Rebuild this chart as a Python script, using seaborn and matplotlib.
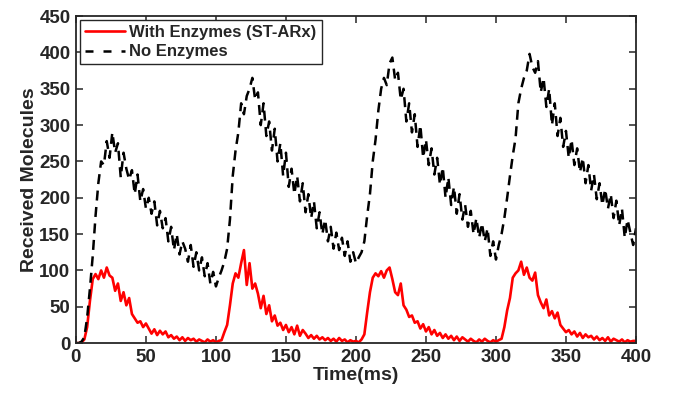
import numpy as np
import pandas as pd
import matplotlib
matplotlib.use("Agg")
import matplotlib.pyplot as plt
import seaborn as sns

# time axis (ms), 2 ms step
time_ms = list(range(0, 401, 2))

no_enzymes = [
    # 0..98
    0, 0, 2, 8, 35, 75, 120, 175, 220, 250, 245, 278, 255, 290, 262, 275, 228, 262, 240, 225,
    238, 205, 232, 195, 212, 185, 200, 178, 195, 162, 182, 158, 172, 140, 160, 128, 150, 122, 140, 130,
    112, 135, 105, 125, 100, 118, 92, 110, 82, 98,
    # 100..198
    78, 90, 100, 112, 130, 170, 230, 265, 290, 330, 315, 340, 350, 365, 335, 345, 300, 330, 285, 305,
    265, 295, 250, 275, 230, 262, 215, 240, 205, 230, 195, 220, 180, 205, 172, 195, 158, 180, 150, 170,
    140, 160, 130, 152, 128, 145, 120, 140, 112, 125,
    # 200..298
    110, 118, 125, 140, 175, 205, 250, 280, 320, 350, 365, 355, 385, 393, 362, 372, 335, 350, 305, 330,
    290, 315, 270, 300, 255, 280, 245, 268, 232, 255, 218, 242, 200, 228, 190, 215, 178, 205, 170, 190,
    160, 182, 150, 172, 145, 165, 140, 158, 120, 140,
    # 300..398
    115, 135, 150, 172, 200, 230, 258, 282, 330, 350, 365, 375, 398, 380, 372, 388, 345, 365, 325, 350,
    300, 330, 285, 310, 270, 292, 255, 280, 245, 268, 235, 255, 220, 245, 210, 232, 198, 220, 190, 212,
    185, 205, 172, 196, 162, 185, 145, 170, 152, 135,
    # 400
    158,
]

with_enzymes = [
    # 0..98
    0, 0, 1, 5, 22, 58, 88, 95, 88, 100, 90, 104, 93, 90, 72, 82, 58, 70, 52, 62,
    40, 34, 28, 30, 22, 27, 20, 13, 19, 11, 17, 12, 16, 8, 11, 6, 9, 4, 8, 3,
    7, 4, 6, 2, 5, 3, 1, 5, 2, 4,
    # 100..198
    1, 3, 4, 15, 25, 52, 82, 96, 90, 110, 128, 80, 110, 75, 82, 68, 48, 65, 40, 52,
    30, 38, 24, 28, 18, 25, 15, 22, 12, 24, 10, 18, 13, 7, 11, 6, 10, 5, 8, 4,
    7, 3, 6, 2, 7, 3, 5, 1, 4, 2,
    # 200..298
    3, 1, 5, 12, 42, 70, 90, 96, 92, 99, 90, 100, 104, 88, 70, 66, 82, 52, 46, 36,
    38, 28, 30, 20, 26, 16, 22, 12, 18, 10, 14, 7, 12, 6, 10, 4, 9, 3, 8, 5,
    2, 6, 3, 1, 5, 2, 6, 3, 1, 4,
    # 300..398
    2, 4, 6, 22, 45, 62, 90, 96, 100, 112, 94, 104, 90, 86, 97, 66, 56, 48, 60, 38,
    44, 34, 42, 25, 20, 15, 18, 12, 16, 9, 14, 7, 12, 8, 10, 5, 9, 4, 7, 3,
    8, 2, 6, 4, 2, 5, 1, 4, 2, 3,
    # 400
    3,
]

x_ticks = [0, 50, 100, 150, 200, 250, 300, 350, 400]
y_ticks = [0, 50, 100, 150, 200, 250, 300, 350, 400, 450]
label_with = "With Enzymes (ST-ARx)"
label_without = "No Enzymes"

sns.set_style("ticks")
plt.rcParams["font.family"] = ["Liberation Sans", "DejaVu Sans"]
plt.rcParams["font.weight"] = "bold"
plt.rcParams["axes.labelweight"] = "bold"

df = pd.DataFrame({"t": time_ms, "with": with_enzymes, "without": no_enzymes})

fig = plt.figure(figsize=(6.78, 3.93), dpi=100)
ax = fig.add_axes([0.112, 0.127, 0.826, 0.832])

sns.lineplot(data=df, x="t", y="with", ax=ax, color="#ff0000", linewidth=1.9,
             label=label_with)
sns.lineplot(data=df, x="t", y="without", ax=ax, color="black", linewidth=1.8,
             label=label_without)
ax.lines[1].set_dashes((4, 2.6))

ax.set_xlim(0, 400)
ax.set_ylim(0, 450)
ax.set_xticks(x_ticks)
ax.set_yticks(y_ticks)
ax.set_xlabel("Time(ms)", fontsize=14, fontweight="bold", color="#262626", labelpad=1)
ax.set_ylabel("Received Molecules", fontsize=14, fontweight="bold", color="#262626", labelpad=1)

for s in ["top", "right", "left", "bottom"]:
    ax.spines[s].set_visible(True)
    ax.spines[s].set_color("#262626")
    ax.spines[s].set_linewidth(1.3)
ax.tick_params(direction="in", length=5, width=1.1, top=True, right=True,
               labelsize=13.5, colors="#262626", pad=4)
for lab in ax.get_xticklabels() + ax.get_yticklabels():
    lab.set_fontweight("bold")

leg = ax.legend(loc="upper left", frameon=True, fancybox=False, framealpha=1,
                edgecolor="#262626", fontsize=12, handlelength=2.4,
                borderpad=0.3, labelspacing=0.25, handletextpad=0.25,
                borderaxespad=0.25)
leg.get_frame().set_linewidth(1.0)
for t in leg.get_texts():
    t.set_fontweight("bold")
leg.get_lines()[1].set_dashes((3.2, 4))

fig.savefig("out.png", dpi=100)
